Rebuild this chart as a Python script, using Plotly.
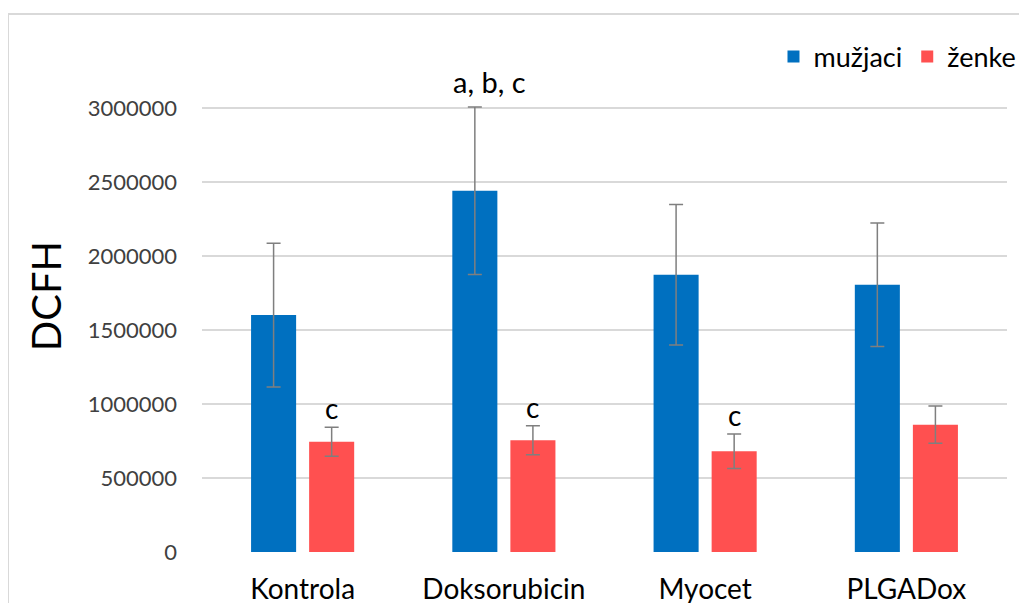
import plotly.graph_objects as go

categories = ["Kontrola", "Doksorubicin", "Myocet", "PLGADox"]
male_values = [1602000, 2443000, 1875000, 1807000]
male_errors = [486000, 566000, 475000, 418000]
female_values = [746000, 755000, 681000, 861000]
female_errors = [98000, 98000, 117000, 126000]
male_labels = ["", "a, b, c", "", ""]
female_labels = ["c", "c", "c", ""]
series_names = ["mužjaci", "ženke"]
y_ticks = [0, 500000, 1000000, 1500000, 2000000, 2500000, 3000000]

FONT = "Lato"
BLUE = "#0070C0"
RED = "#FF5050"
ERR = "#7F7F7F"

fig = go.Figure()
fig.add_trace(go.Bar(
    name=series_names[0], x=categories, y=male_values,
    marker=dict(color=BLUE, line=dict(width=0)),
    error_y=dict(type="data", array=male_errors, color=ERR, thickness=1.5, width=7),
    cliponaxis=False,
))
fig.add_trace(go.Bar(
    name=series_names[1], x=categories, y=female_values,
    marker=dict(color=RED, line=dict(width=0)),
    error_y=dict(type="data", array=female_errors, color=ERR, thickness=1.5, width=7),
    cliponaxis=False,
))

annotations = []
for cat, v, e, t in zip(categories, male_values, male_errors, male_labels):
    if t:
        annotations.append(dict(x=cat, y=v + e, text=t, showarrow=False, xref="x", yref="y",
                                xshift=-14, yshift=6, yanchor="bottom",
                                font=dict(family=FONT, size=29, color="#000000")))
for cat, v, e, t in zip(categories, female_values, female_errors, female_labels):
    if t:
        annotations.append(dict(x=cat, y=v + e, text=t, showarrow=False, xref="x", yref="y",
                                xshift=29, yshift=0, yanchor="bottom",
                                font=dict(family=FONT, size=28, color="#000000")))

fig.update_layout(
    width=1027, height=603,
    margin=dict(l=194, r=28, t=32, b=59),
    paper_bgcolor="white", plot_bgcolor="white",
    font=dict(family=FONT, size=22, color="#404040"),
    barmode="group", bargap=0.423, bargroupgap=0.224,
    showlegend=True,
    legend=dict(orientation="h", x=1.018, xanchor="right", y=(552 - 57) / 512, yanchor="middle",
                font=dict(family=FONT, size=27, color="#000000"),
                itemwidth=30, traceorder="normal", bgcolor="rgba(0,0,0,0)"),
    annotations=annotations,
    shapes=[dict(type="rect", xref="paper", yref="paper", x0=-0.241, x1=1.1, y0=-0.3,
                 y1=(552 - 14) / 512,
                 line=dict(color="#D9D9D9", width=2), fillcolor="rgba(0,0,0,0)", layer="below")],
)
fig.update_xaxes(showgrid=False, showline=False, ticks="", ticklabelstandoff=18, automargin=False,
                 tickfont=dict(family=FONT, size=28, color="#000000"))
fig.update_yaxes(range=[0, 512 / 147.9 * 1e6], tickvals=y_ticks, ticktext=[str(t) for t in y_ticks],
                 showgrid=True, gridcolor="#D9D9D9", gridwidth=1.5, zeroline=False, showline=False,
                 ticks="", ticklabelstandoff=24, automargin=False,
                 tickfont=dict(family=FONT, size=22, color="#404040"),
                 title=dict(text="DCFH", font=dict(family=FONT, size=40, color="#000000"), standoff=13))

fig.write_html("out.html")
